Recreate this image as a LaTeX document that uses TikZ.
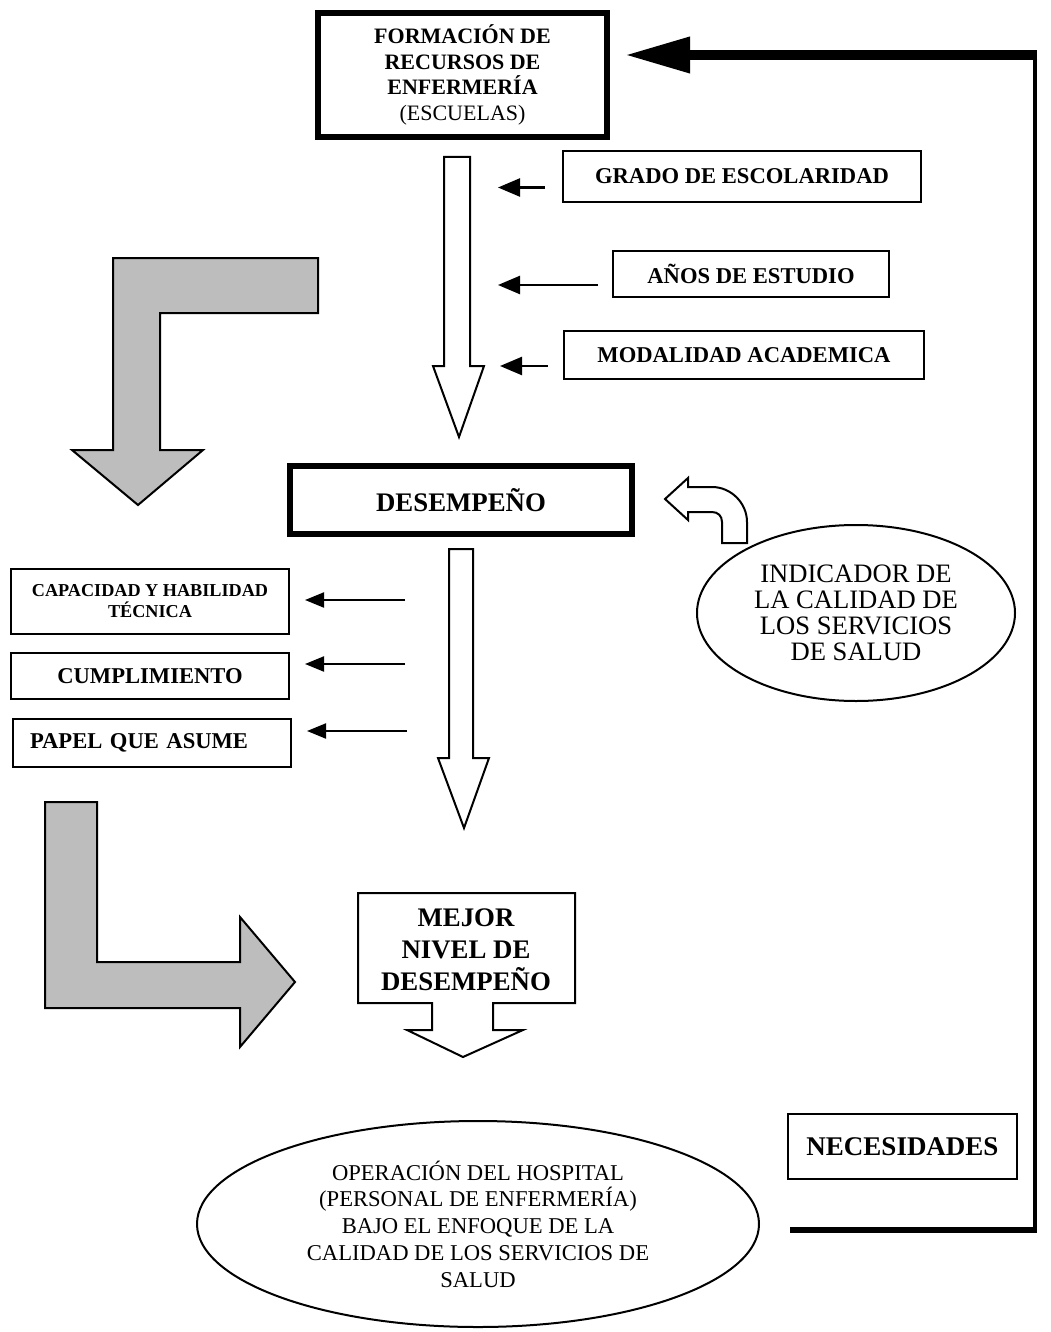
\documentclass[tikz,border=0pt]{standalone}
\usepackage{fontspec}
\setmainfont{Liberation Serif}
\usetikzlibrary{arrows.meta,shapes.geometric}
\newcommand\setfs[2]{\fontsize{#1}{#2}\selectfont}

\begin{document}
\begin{tikzpicture}[x=1pt,y=-1pt,line join=miter]
	\tikzset{box/.style={draw,line width=2pt,inner sep=0pt,align=center,font=\bfseries\setfs{22.6}{26}},
		heavy/.style={box,line width=6pt},
		oval/.style={draw,ellipse,line width=2pt,inner sep=0pt,align=center},
		hollow/.style={draw,line width=2pt,fill=white},
		grey/.style={draw,line width=2pt,fill=black!26},
		tip/.style={line width=2.5pt,-{Triangle[length=22pt,width=18pt]}},
		tipsm/.style={line width=2pt,-{Triangle[length=19pt,width=15pt]}}}
	\useasboundingbox (0,0) rectangle (1051,1332);
	% boxes
	\node[heavy,minimum width=289pt,minimum height=124pt,font=\bfseries\setfs{22}{25.7}] (escuelas) at (462.5,75) {FORMACIÓN DE\\RECURSOS DE\\ENFERMERÍA\\{\mdseries (ESCUELAS)}};
	\node[box,minimum width=358pt,minimum height=51pt] (grado) at (742,176.5) {GRADO DE ESCOLARIDAD};
	\node[box,minimum width=276pt,minimum height=46pt] (anos) at (751,274) {AÑOS DE ESTUDIO};
	\node[box,minimum width=360pt,minimum height=48pt] (modal) at (744,355) {MODALIDAD ACADEMICA};
	\node[heavy,minimum width=342pt,minimum height=68pt,font=\bfseries\setfs{26.8}{32}] (desemp) at (461,500) {DESEMPEÑO};
	\node[box,minimum width=278pt,minimum height=65pt,font=\bfseries\setfs{18.2}{21}] (capac) at (150,601.5) {CAPACIDAD Y HABILIDAD\\TÉCNICA};
	\node[box,minimum width=278pt,minimum height=46pt] (cumpl) at (150,676) {CUMPLIMIENTO};
	\node[box,minimum width=278pt,minimum height=48pt,text width=244pt,align=left] (papel) at (152,743) {PAPEL QUE ASUME};
	\node[oval,minimum width=318pt,minimum height=176pt,font=\setfs{26.6}{26}] (indic) at (856,613) {INDICADOR DE\\LA CALIDAD DE\\LOS SERVICIOS\\DE SALUD};
	\node[box,minimum width=229pt,minimum height=65pt,font=\bfseries\setfs{27}{32}] (necesid) at (902.5,1146.5) {NECESIDADES};
	\node[oval,minimum width=562pt,minimum height=206pt,font=\setfs{22.6}{26.7}] (hospital) at (478,1224) {OPERACIÓN DEL HOSPITAL\\(PERSONAL DE ENFERMERÍA)\\BAJO EL ENFOQUE DE LA\\CALIDAD DE LOS SERVICIOS DE\\SALUD};
	\draw[line width=2pt] (358,893) -- (575,893) -- (575,1003) -- (493,1003) -- (493,1030) -- (523,1030) -- (463,1057)
		-- (407,1030) -- (432,1030) -- (432,1003) -- (358,1003) -- cycle;
	\node[font=\bfseries\setfs{26.8}{32},align=center] (mejor) at (466,950) {MEJOR\\NIVEL DE\\DESEMPEÑO};
	% hollow arrows
	\draw[hollow] (444,157) -- (470,157) -- (470,366) -- (484,366) -- (459,437) -- (433,366) -- (444,366) -- cycle;
	\draw[hollow] (449,549) -- (473,549) -- (473,758) -- (489,758) -- (464,828) -- (438,758) -- (449,758) -- cycle;
	\draw[hollow] (688,487) -- (712,487) .. controls (731,487) and (747,503) .. (747,522) -- (747,543) -- (722,543)
		-- (722,522) .. controls (722,516) and (718,512) .. (712,512) -- (688,512) -- (688,520) -- (665,499) -- (688,478) -- cycle;
	% grey arrows
	\draw[grey] (113,258) -- (318,258) -- (318,313) -- (160,313) -- (160,450) -- (203,450) -- (138,505) -- (72,450) -- (113,450) -- cycle;
	\draw[grey] (45,802) -- (97,802) -- (97,962) -- (240,962) -- (240,917) -- (295,982) -- (240,1047) -- (240,1008) -- (45,1008) -- cycle;
	% small arrows
	\foreach \n/\a/\b in {grado/17/47,anos/14/100,modal/15/48}
		\draw[tip] ([xshift=-\a pt,yshift=-11pt]\n.west) -- ++(-\b,0);
	\foreach \n/\s in {capac/1.5,cumpl/12,papel/12}
		\draw[tipsm] ([xshift=115pt,yshift=\s pt]\n.east) -- ([xshift=15pt,yshift=\s pt]\n.east);
	% feedback
	\coordinate (fbstart) at (790,1230);
	\draw[line width=6pt] (fbstart) -- (1037,1230);
	\draw[line width=4pt] (1035,1232) -- (1035,51);
	\draw[line width=10pt,-{Triangle[length=65pt,width=34pt]}] (1037,55) -- ([xshift=15pt,yshift=20pt]escuelas.east);
\end{tikzpicture}
\end{document}
